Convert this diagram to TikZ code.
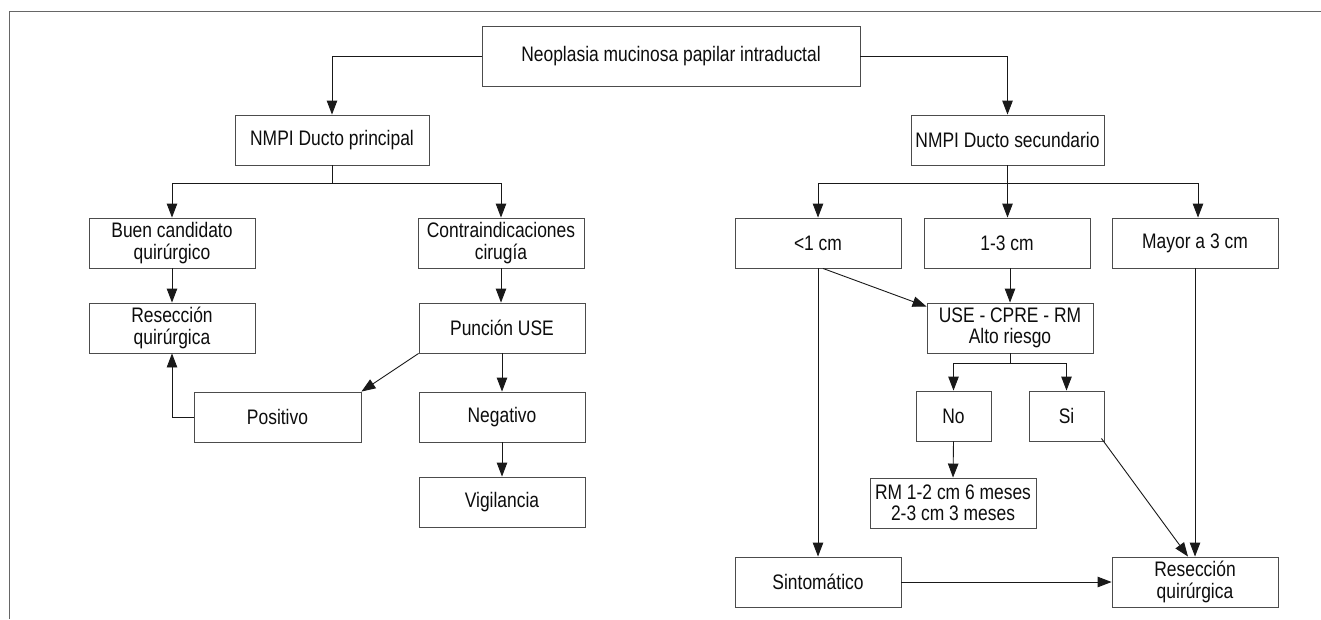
\documentclass[tikz,border=0pt]{standalone}
\usepackage{fontspec}
\setmainfont[FakeStretch=0.83]{Liberation Sans}
\usetikzlibrary{arrows.meta,calc}
\begin{document}
\begin{tikzpicture}[x=1pt,y=-1pt,
  box/.style={draw=black!70,line width=0.9pt,fill=white,minimum width=166pt,minimum height=50pt,inner sep=0pt,align=center,text=black!95,font=\fontsize{21}{21.5}\selectfont},
  conn/.style={draw=black!90,line width=0.9pt},
  arr/.style={conn,-{Triangle[length=14pt,width=10.5pt]}},
  frame/.style={draw=black!60,line width=0.8pt}
]
\useasboundingbox (0,0) rectangle (1321,619);
\draw[frame] (9,619) -- (9,11) -- (1321,11);

% nodes
\node[box,minimum width=378pt,minimum height=60pt] (top) at (671,56) {Neoplasia mucinosa papilar intraductal};
\node[box,minimum width=194pt] (prin) at (332,140) {NMPI Ducto principal};
\node[box,minimum width=193pt] (sec) at (1007.5,140) {NMPI Ducto secundario};
\node[box] (buen) at (172,243) {Buen candidato\\quirúrgico};
\node[box] (contra) at (501,243) {Contraindicaciones\\cirugía};
\node[box] (resL) at (172,328) {Resección\\quirúrgica};
\node[box] (puncion) at (502,328) {Punción USE};
\node[box,minimum width=167pt] (positivo) at (277.5,417) {Positivo};
\node[box] (negativo) at (502,417) {Negativo};
\node[box] (vigil) at (502,502) {Vigilancia};
\node[box] (lt1) at (818,243) {<1 cm};
\node[box] (b13) at (1007,243) {1-3 cm};
\node[box] (mayor) at (1195,243) {Mayor a 3 cm};
\node[box] (use) at (1010,328) {USE - CPRE - RM\\Alto riesgo};
\node[box,minimum width=75pt] (no) at (953.5,416) {No};
\node[box,minimum width=75pt] (si) at (1066.5,416) {Si};
\node[box] (rm) at (953,503) {RM 1-2 cm 6 meses\\2-3 cm 3 meses};
\node[box] (sint) at (818,582) {Sintomático};
\node[box] (resR) at (1195,582) {Resección\\quirúrgica};

% top level
\draw[arr] (top.west) -| (prin.north);
\draw[arr] (top.east) -| (sec.north);

% left branch
\draw[conn] (prin.south) -- ++(0,18) coordinate (pj);
\draw[arr] (pj) -| (buen.north);
\draw[arr] (pj) -| (contra.north);
\draw[arr] (buen.south) -- (resL.north);
\draw[arr] (contra.south) -- (contra.south |- puncion.north);
\draw[arr] (puncion.south west) -- (positivo.north east);
\draw[arr] (puncion.south) -- (negativo.north);
\draw[arr] (negativo.south) -- (vigil.north);
\draw[arr] (positivo.west) -| (resL.south);

% right branch
\draw[conn] (sec.south) -- ++(0,18) coordinate (sj);
\draw[arr] (sj) -| (lt1.north);
\draw[arr] (sj) -- (sj |- b13.north);
\draw[arr] (sj) -| ($(mayor.north)+(3,0)$);
\draw[arr] ($(lt1.south)+(5,0)$) -- ($(use.north west)+(0,4)$);
\draw[arr] (lt1.south) -- (sint.north);
\draw[arr] (b13.south -| use.north) -- (use.north);
\draw[conn] (use.south) -- ++(0,10) coordinate (uj);
\draw[arr] (uj) -| (no.north);
\draw[arr] (uj) -| (si.north);
\draw[arr] (no.south) -- (rm.north);
\draw[arr] ($(si.south east)+(-3,-3)$) -- ($(resR.north)+(-7,0)$);
\draw[arr] (mayor.south) -- (resR.north);
\draw[arr] (sint.east) -- (resR.west);
\end{tikzpicture}
\end{document}
